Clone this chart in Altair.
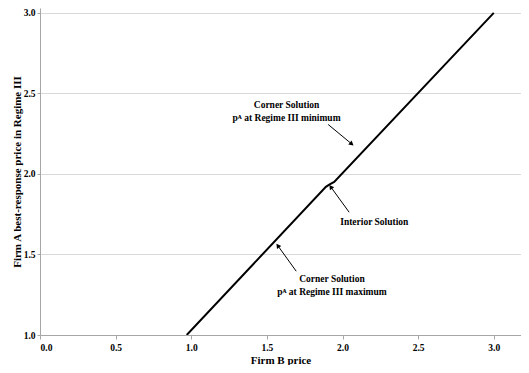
import altair as alt
import pandas as pd

# best-response curve (Firm B price -> Firm A price)
firm_b = [0.97, 1.89, 1.915, 1.945, 3.0]
firm_a = [1.00, 1.92, 1.935, 1.950, 3.0]

# annotation texts
ann_text = ["Corner Solution", "pᴬ at Regime III minimum", "Interior Solution",
            "Corner Solution", "pᴬ at Regime III maximum"]
ann_x = [1.63, 1.63, 2.21, 1.93, 1.93]
ann_y = [2.425, 2.35, 1.70, 1.345, 1.265]

# arrows: start -> end
arr_x1 = [1.905, 2.044, 1.694]
arr_y1 = [2.307, 1.762, 1.396]
arr_x2 = [2.057, 1.925, 1.575]
arr_y2 = [2.189, 1.916, 1.551]
arr_angle = [129.6, 324.2, 324.2]

curve = pd.DataFrame({"b": firm_b, "a": firm_a})
ann = pd.DataFrame({"t": ann_text, "x": ann_x, "y": ann_y})
arr = pd.DataFrame({"x1": arr_x1, "y1": arr_y1, "x2": arr_x2, "y2": arr_y2, "ang": arr_angle})

FONT = "Liberation Serif"
xs = alt.Scale(domain=[0, 3.18], nice=False, zero=False)
ys = alt.Scale(domain=[1, 3.03], nice=False, zero=False)

line = alt.Chart(curve).mark_line(color="black", strokeWidth=2, clip=True).encode(
    x=alt.X("b:Q", scale=xs, title="Firm B price",
            axis=alt.Axis(values=[0, 0.5, 1, 1.5, 2, 2.5, 3], format=".1f", grid=False)),
    y=alt.Y("a:Q", scale=ys, title="Firm A best-response price in Regime III",
            axis=alt.Axis(values=[1, 1.5, 2, 2.5, 3], format=".1f", grid=True, tickSize=3)),
)

text = alt.Chart(ann).mark_text(font=FONT, fontSize=9.5, fontWeight="bold", color="black").encode(
    x=alt.X("x:Q", scale=xs), y=alt.Y("y:Q", scale=ys), text="t:N")

rules = alt.Chart(arr).mark_rule(color="black", strokeWidth=1).encode(
    x=alt.X("x1:Q", scale=xs), y=alt.Y("y1:Q", scale=ys), x2="x2:Q", y2="y2:Q")

heads = alt.Chart(arr).mark_point(shape="triangle", filled=True, color="black", size=28, opacity=1).encode(
    x=alt.X("x2:Q", scale=xs), y=alt.Y("y2:Q", scale=ys), angle=alt.Angle("ang:Q", scale=None))

chart = alt.layer(line, rules, heads, text).properties(
    width=481, height=327,
    autosize=alt.AutoSizeParams(type="none"),
    padding={"left": 32, "top": 0, "right": 0, "bottom": 30},
).configure_view(stroke=None).configure_axis(
    labelFont=FONT, titleFont=FONT, labelFontSize=9.5, labelFontWeight="bold",
    titleFontSize=11, titleFontWeight="bold", labelColor="black", titleColor="black",
    domainColor="#a6a6a6", tickColor="#a6a6a6", tickSize=4, gridColor="#d9d9d9",
).configure_axisY(titlePadding=1, labelPadding=2).configure_axisX(titlePadding=3, labelPadding=3)

chart.save("out.html", embed_options={"renderer": "svg", "actions": False})
